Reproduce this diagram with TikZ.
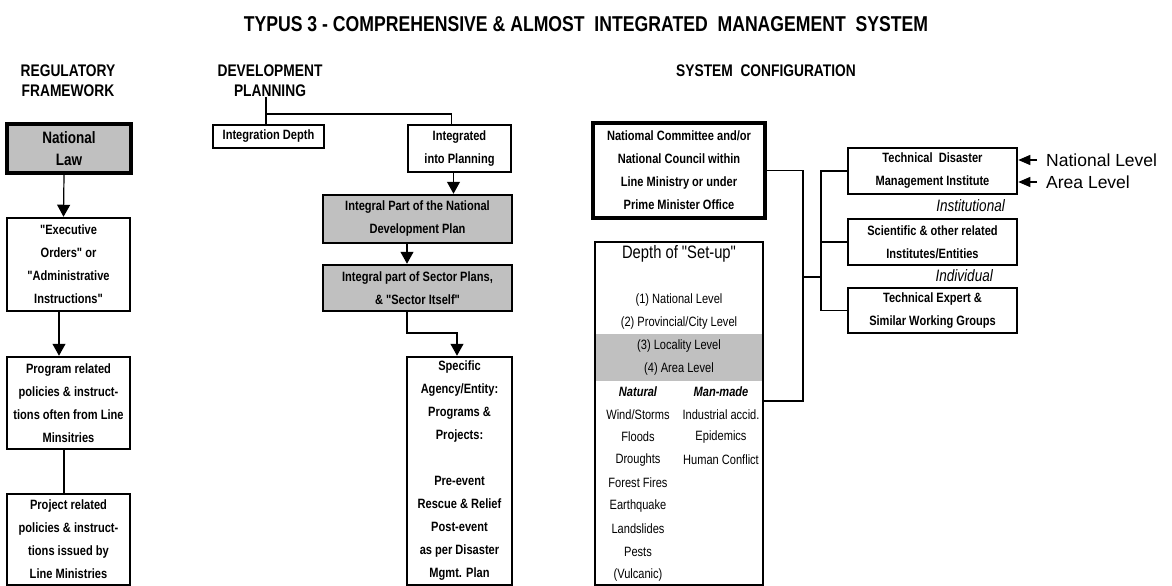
\documentclass[tikz,border=0pt]{standalone}
\usepackage{fontspec}
\setmainfont{Liberation Sans}[FakeStretch=0.82, Ligatures=TeXOff]
\newfontfamily\widefont{Liberation Sans}
\usetikzlibrary{arrows.meta}
\definecolor{boxgray}{RGB}{192,192,192}
\tikzset{
  box/.style={draw, line width=2.5pt, inner sep=0pt, align=center,
    font=\fontsize{13.5}{23}\bfseries\selectfont},
  heavy/.style={box, line width=4pt},
  grayfill/.style={fill=boxgray},
  arr/.style={line width=1.2pt, -{Triangle[width=13pt,length=12pt]}},
  sidearr/.style={line width=1.2pt, -{Triangle[width=10pt,length=12pt]}},
  conn/.style={line width=1.1pt},
  hdr/.style={inner sep=0pt, font=\fontsize{16.8}{20}\bfseries\selectfont},
  ttl/.style={inner sep=0pt, font=\fontsize{21.5}{25}\bfseries\selectfont},
  lbl/.style={inner sep=0pt, font=\fontsize{13.5}{23}\selectfont},
  itl/.style={inner sep=0pt, font=\fontsize{16.5}{19}\itshape\selectfont},
  wide/.style={inner sep=0pt, font=\fontsize{17.5}{20}\widefont},
}
\newcommand\bx[7]{\node[#6, minimum width={#4-#2}, minimum height={#5-#3}] (#1) at ({(#2+#4)/2},{(#3+#5)/2}) {#7};}
\begin{document}
\begin{tikzpicture}[x=1pt,y=-1pt]
\useasboundingbox (0,0) rectangle (1172,586);
% title and headers
\node[ttl] (title) at (586,24) {TYPUS 3 - COMPREHENSIVE \& ALMOST\ \ INTEGRATED\ \ MANAGEMENT\ \ SYSTEM};
\node[hdr] (regh1) at (68,71) {REGULATORY};
\node[hdr] (regh2) at (68,91) {FRAMEWORK};
\node[hdr] (devh1) at (270,71) {DEVELOPMENT};
\node[hdr] (devh2) at (270,91) {PLANNING};
\node[hdr] (sysh) at (766,71) {SYSTEM\ \ CONFIGURATION};
% regulatory column
\bx{nl}{7}{124}{131}{173}{heavy,grayfill,font=\fontsize{16.5}{22}\bfseries\selectfont}{National\\Law}
\bx{exec}{7}{218}{130}{311}{box}{"Executive\\Orders" or\\"Administrative\\Instructions"}
\bx{prog}{7}{357}{130}{449}{box}{Program related\\policies \& instruct-\\tions often from Line\\Minsitries}
\bx{proj}{7}{494}{130}{585}{box}{Project related\\policies \& instruct-\\tions issued by\\Line Ministries}
\draw[arr] ([xshift=-5pt]nl.south) -- ([xshift=-5pt]exec.north);
\draw[arr] ([xshift=-9.5pt]exec.south) -- ([xshift=-9.5pt]prog.north);
\draw[conn] ([xshift=-4.5pt]prog.south) -- ([xshift=-4.5pt]proj.north);
% development planning column
\bx{idep}{213}{125}{324}{148}{box}{Integration Depth}
\bx{integ}{408}{125}{511}{172}{box}{Integrated\\into Planning}
\bx{natplan}{323}{195}{512}{243}{box,grayfill}{Integral Part of the National\\Development Plan}
\bx{secplan}{323}{265}{512}{311}{box,grayfill}{Integral part of Sector Plans,\\\& "Sector Itself"}
\bx{spec}{407}{357}{512}{585}{box}{Specific\\Agency/Entity:\\Programs \&\\Projects:\\[23pt]Pre-event\\Rescue \& Relief\\Post-event\\as per Disaster\\Mgmt. Plan}
\coordinate (pj) at (266,114);
\coordinate (sj) at (407,333);
\draw[conn] (devh2.south -| pj) -- (pj |- idep.north);
\draw[conn] (pj) -| ([xshift=-8pt]integ.north);
\draw[arr] ([xshift=-6pt]integ.south) -- ([xshift=-6pt]integ.south |- natplan.north);
\draw[arr] (natplan.south -| sj) -- (secplan.north -| sj);
\draw[arr] (secplan.south -| sj) -- (sj) -| ([xshift=-2.5pt]spec.north);
% system configuration
\bx{comm}{593}{123}{765}{218}{heavy}{Natiomal Committee and/or\\National Council within\\Line Ministry or under\\Prime Minister Office}
\fill[boxgray] (595,334) rectangle (763,381);
\bx{depth}{595}{242}{763}{585}{box}{}
\node[inner sep=0pt, font=\fontsize{18}{20}\selectfont] (dh) at (679,254) {Depth of "Set-up"};
\node[lbl] (lv1) at (679,300) {(1) National Level};
\node[lbl] (lv2) at (679,323) {(2) Provincial/City Level};
\node[lbl] (lv3) at (679,346) {(3) Locality Level};
\node[lbl] (lv4) at (679,369) {(4) Area Level};
\node[lbl, font=\fontsize{13.5}{23}\bfseries\itshape\selectfont] (nat) at (638,392) {Natural};
\node[lbl, font=\fontsize{13.5}{23}\bfseries\itshape\selectfont] (man) at (721,392) {Man-made};
\node[lbl] (n1) at (638,415) {Wind/Storms};
\node[lbl] (n2) at (638,437) {Floods};
\node[lbl] (n3) at (638,460) {Droughts};
\node[lbl] (n4) at (638,483) {Forest Fires};
\node[lbl] (n5) at (638,506) {Earthquake};
\node[lbl] (n6) at (638,529) {Landslides};
\node[lbl] (n7) at (638,552) {Pests};
\node[lbl] (n8) at (638,575) {(Vulcanic)};
\node[lbl] (m1) at (721,415) {Industrial accid.};
\node[lbl] (m2) at (721,437) {Epidemics};
\node[lbl] (m3) at (721,460) {Human Conflict};
\bx{tdmi}{848}{148}{1017}{194}{box}{Technical\ \ Disaster\\Management Institute}
\bx{sci}{848}{219}{1017}{265}{box}{Scientific \& other related\\Institutes/Entities}
\bx{expert}{848}{288}{1017}{333}{box}{Technical Expert \&\\Similar Working Groups}
\node[itl, anchor=east] (inst) at (1005,206) {Institutional};
\node[itl, anchor=east] (indiv) at (993,276) {Individual};
\coordinate (j2) at (803,401);
\coordinate (j3) at (803,277);
\coordinate (k0) at (821,277);
\draw[conn] (comm.east) -| (j2) -- (depth.east |- j2);
\draw[conn] (j3) -- (k0);
\draw[conn] (tdmi.west) -| (k0 |- expert.west) -- (expert.west);
\draw[conn] (sci.west) -- (sci.west -| k0);
\node[wide, anchor=west] (natlv) at (1046,160) {National Level};
\node[wide, anchor=west] (arealv) at (1046,182) {Area Level};
\draw[sidearr] ([xshift=-9pt]natlv.west) -- (natlv.west -| tdmi.east);
\draw[sidearr] ([xshift=-9pt]arealv.west) -- (arealv.west -| tdmi.east);
\end{tikzpicture}
\end{document}
